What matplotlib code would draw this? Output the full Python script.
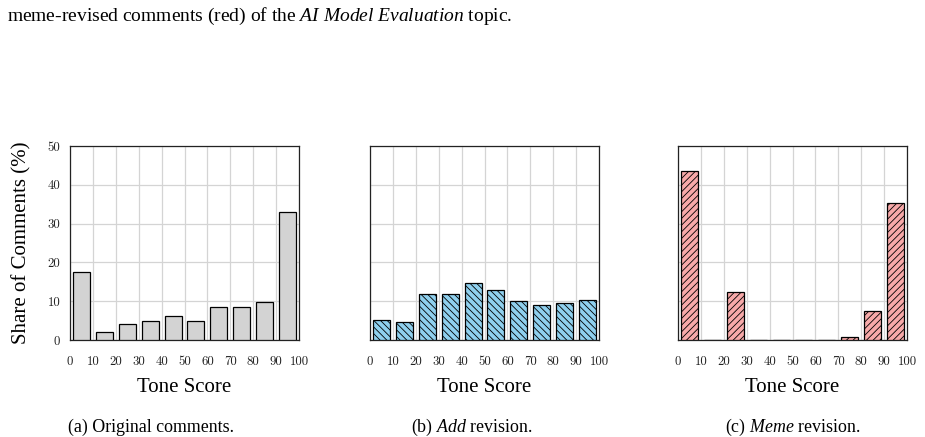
import matplotlib
matplotlib.use("Agg")
import matplotlib.pyplot as plt
import numpy as np

plt.rcParams['mathtext.fontset'] = 'custom'
plt.rcParams['mathtext.rm'] = 'Liberation Serif'
plt.rcParams['mathtext.it'] = 'Liberation Serif:italic'
plt.rcParams['hatch.linewidth'] = 0.6

bin_starts = [0, 10, 20, 30, 40, 50, 60, 70, 80, 90]
tick_values = [0, 10, 20, 30, 40, 50, 60, 70, 80, 90, 100]
y_ticks = [0, 10, 20, 30, 40, 50]

original = [17.5, 2.0, 4.1, 4.8, 6.3, 4.8, 8.4, 8.4, 9.9, 33.1]
add_rev = [5.2, 4.7, 11.8, 11.8, 14.6, 12.8, 10.0, 8.9, 9.5, 10.3]
meme_rev = [43.6, 0.1, 12.5, 0.1, 0.1, 0.1, 0.1, 0.8, 7.6, 35.2]

panels = [
    (original, '#d3d3d3', None, '(a) Original comments.'),
    (add_rev, '#8fd0ee', '\\\\\\\\\\', r'(b) $\mathit{Add}$ revision.'),
    (meme_rev, '#f7a9a9', '/////', r'(c) $\mathit{Meme}$ revision.'),
]

W, H = 925, 437
fig = plt.figure(figsize=(W / 100, H / 100), dpi=100)

lefts = [70, 370, 678]
cap_centers = [151, 472, 793]
ax_w = 229
ax_top, ax_bot = 146, 340
serif = 'Liberation Serif'

for i, (vals, color, hatch, cap) in enumerate(panels):
    l = lefts[i]
    ax = fig.add_axes([l / W, (H - ax_bot) / H, ax_w / W, (ax_bot - ax_top) / H])
    centers = np.array(bin_starts) + 5
    ax.bar(centers, vals, width=7.4, color=color, edgecolor='black',
           linewidth=0.9, hatch=hatch, zorder=3)
    ax.set_xlim(0, 100)
    ax.set_ylim(0, 50)
    ax.set_xticks(tick_values)
    ax.set_yticks(y_ticks)
    ax.grid(True, color='#d4d4d4', linewidth=0.9, zorder=0)
    ax.set_axisbelow(True)
    ax.tick_params(length=0)
    ax.tick_params(axis='x', pad=11.5)
    ax.tick_params(axis='y', pad=7)
    for lab in ax.get_xticklabels() + ax.get_yticklabels():
        lab.set_fontfamily('cmr10')
        lab.set_fontsize(9.2)
        lab.set_color('#222222')
    if i > 0:
        ax.set_yticklabels([])
    for s in ax.spines.values():
        s.set_color('#222222')
        s.set_linewidth(0.9)
    cx = (l + ax_w / 2) / W
    fig.text(cx, 1 - 388 / H, 'Tone Score', ha='center', va='center',
             fontfamily=serif, fontsize=15)
    fig.text(cap_centers[i] / W, 1 - 427 / H, cap, ha='center', va='center',
             fontfamily=serif, fontsize=12.9)

fig.text(22 / W, 1 - 243 / H, 'Share of Comments (%)', rotation=90,
         ha='center', va='center', fontfamily=serif, fontsize=15)

fig.text(7 / W, 1 - 16 / H,
         r'meme-revised comments (red) of the $\mathit{AI\ Model\ Evaluation}$ topic.',
         ha='left', va='center', fontfamily=serif, fontsize=14)

fig.savefig('out.png', dpi=100)
